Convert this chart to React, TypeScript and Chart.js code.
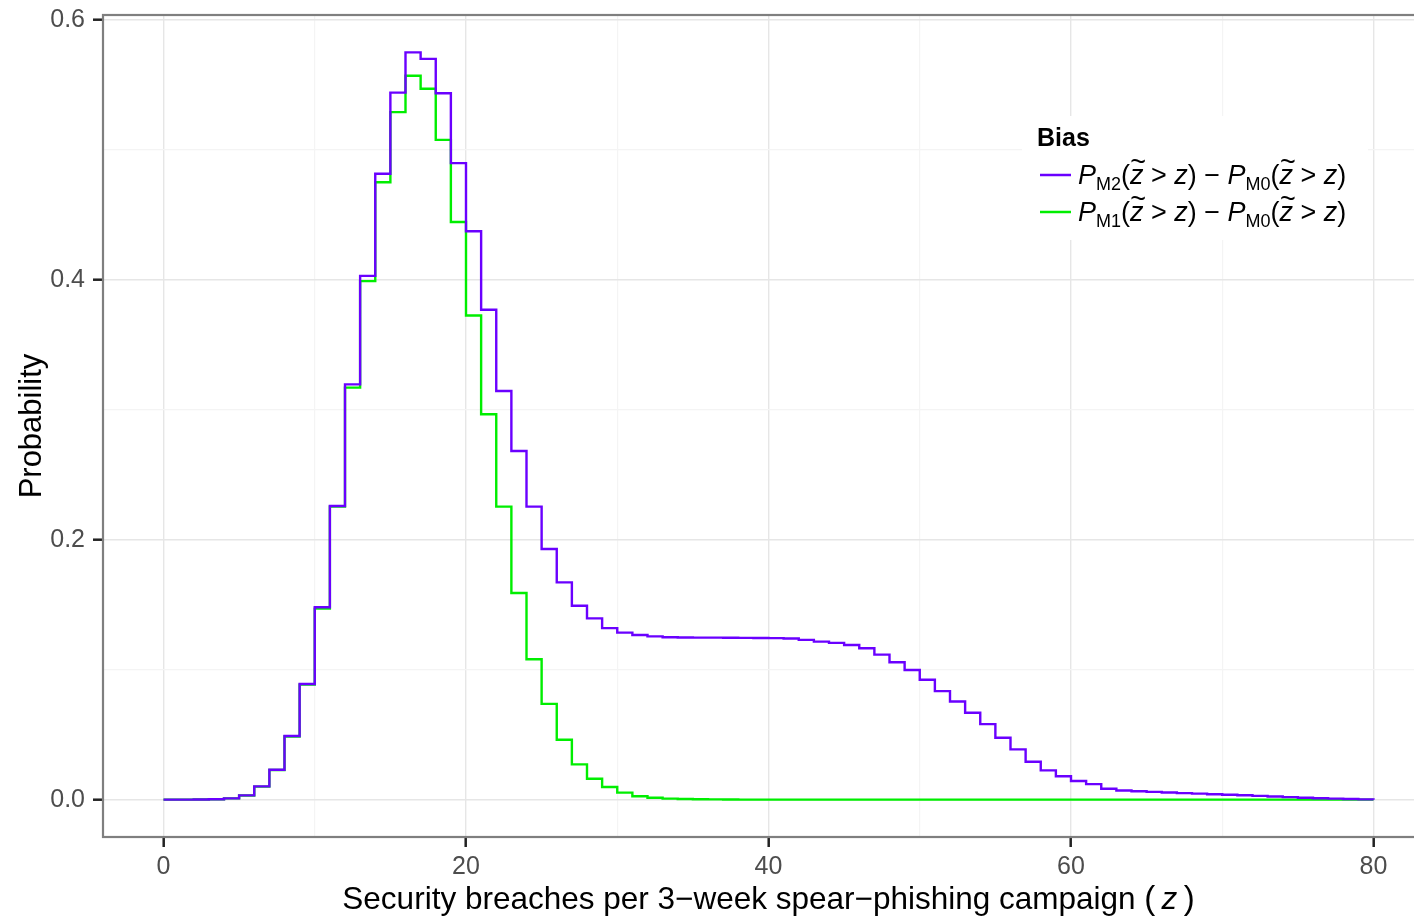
import React, { useEffect, useRef } from 'react';
import { Chart, registerables } from 'chart.js';

Chart.register(...registerables);

// z = number of security breaches (integer steps)
const zValues = [
  0, 1, 2, 3, 4, 5, 6, 7, 8, 9,
  10, 11, 12, 13, 14, 15, 16, 17, 18, 19,
  20, 21, 22, 23, 24, 25, 26, 27, 28, 29,
  30, 31, 32, 33, 34, 35, 36, 37, 38, 39,
  40, 41, 42, 43, 44, 45, 46, 47, 48, 49,
  50, 51, 52, 53, 54, 55, 56, 57, 58, 59,
  60, 61, 62, 63, 64, 65, 66, 67, 68, 69,
  70, 71, 72, 73, 74, 75, 76, 77, 78, 79,
  80,
];

// P_M2(z~ > z) - P_M0(z~ > z)
const biasM2 = [
  0, 0, 0.0001, 0.0003, 0.001, 0.0033, 0.0102, 0.023, 0.049, 0.089,
  0.148, 0.226, 0.3195, 0.403, 0.4816, 0.544, 0.575, 0.57, 0.5435, 0.4898,
  0.4373, 0.377, 0.3144, 0.2683, 0.2255, 0.1928, 0.1672, 0.1492, 0.1395, 0.132,
  0.1285, 0.1267, 0.1256, 0.125, 0.1248, 0.1247, 0.1247, 0.1246, 0.1245, 0.1244,
  0.1243, 0.124, 0.1229, 0.1216, 0.1206, 0.119, 0.1165, 0.1116, 0.1057, 0.0998,
  0.0922, 0.0835, 0.0755, 0.0668, 0.0581, 0.0476, 0.0387, 0.0292, 0.0225, 0.018,
  0.0143, 0.0119, 0.0084, 0.007, 0.0064, 0.006, 0.0055, 0.005, 0.0046, 0.0042,
  0.0038, 0.0034, 0.0029, 0.0024, 0.0019, 0.0014, 0.0011, 0.0008, 0.0005, 0.0002,
  0,
];

// P_M1(z~ > z) - P_M0(z~ > z)
const biasM1 = [
  0, 0, 0.0001, 0.0003, 0.001, 0.0032, 0.01, 0.0228, 0.0486, 0.0885,
  0.147, 0.2255, 0.317, 0.399, 0.475, 0.529, 0.557, 0.547, 0.5077, 0.4445,
  0.3725, 0.2965, 0.2255, 0.159, 0.108, 0.0737, 0.0461, 0.0271, 0.0161, 0.0097,
  0.0054, 0.0026, 0.0015, 0.0008, 0.0005, 0.0003, 0.0002, 0.0001, 0, 0,
  0, 0, 0, 0, 0, 0, 0, 0, 0, 0,
  0, 0, 0, 0, 0, 0, 0, 0, 0, 0,
  0, 0, 0, 0, 0, 0, 0, 0, 0, 0,
  0, 0, 0, 0, 0, 0, 0, 0, 0, 0,
  0,
];

const xGridValues = [0, 10, 20, 30, 40, 50, 60, 70, 80];
const xMajorValues = [0, 20, 40, 60, 80];
const yGridValues = [0, 0.1, 0.2, 0.3, 0.4, 0.5, 0.6];
const yMajorValues = [0, 0.2, 0.4, 0.6];

const legendTitle = 'Bias';
const yTitle = 'Probability';
const xTitleMain = 'Security breaches per 3\u2212week spear\u2212phishing campaign ';
const seriesSubscripts = ['M2', 'M1'];
const baseSubscript = 'M0';
const colorM2 = '#6A00FF';
const colorM1 = '#00EE00';

const FONT = '"Liberation Sans", Arial, Helvetica, sans-serif';

const isMajor = (v: number, majors: number[]) => majors.some((m) => Math.abs(m - v) < 1e-9);

type Run = { text: string; font: string; dy?: number; tilde?: boolean };

function drawRuns(ctx: CanvasRenderingContext2D, runs: Run[], x: number, y: number, draw = true) {
  let cx = x;
  for (const r of runs) {
    ctx.font = r.font;
    const w = ctx.measureText(r.text).width;
    if (draw) {
      ctx.fillText(r.text, cx, y + (r.dy || 0));
      if (r.tilde) {
        ctx.save();
        ctx.font = `27px ${FONT}`;
        const tw = ctx.measureText('~').width;
        ctx.fillText('~', cx + (w - tw) / 2 + 1.5, y + (r.dy || 0) - 13);
        ctx.restore();
      }
    }
    cx += w;
  }
  return cx - x;
}

function legendRuns(sub: string): Run[] {
  const main = `27px ${FONT}`;
  const ital = `italic 27px ${FONT}`;
  const small = `18px ${FONT}`;
  return [
    { text: 'P', font: ital },
    { text: sub, font: small, dy: 6 },
    { text: '(', font: main },
    { text: 'z', font: ital, tilde: true },
    { text: ' > ', font: main },
    { text: 'z', font: ital },
    { text: ')', font: main },
    { text: ' \u2212 ', font: main },
    { text: 'P', font: ital },
    { text: baseSubscript, font: small, dy: 6 },
    { text: '(', font: main },
    { text: 'z', font: ital, tilde: true },
    { text: ' > ', font: main },
    { text: 'z', font: ital },
    { text: ')', font: main },
  ];
}

const decorPlugin = {
  id: 'decor',
  afterDraw(chart: any) {
    const ctx: CanvasRenderingContext2D = chart.ctx;
    const a = chart.chartArea;
    ctx.save();

    // legend box
    ctx.fillStyle = '#FFFFFF';
    ctx.fillRect(1022, 116, 346, 124);
    ctx.fillStyle = '#000000';
    ctx.textBaseline = 'alphabetic';
    ctx.textAlign = 'left';
    ctx.font = `bold 25px ${FONT}`;
    ctx.fillText(legendTitle, 1037, 146);
    const colors = [colorM2, colorM1];
    const ys = [175, 212];
    for (let i = 0; i < 2; i++) {
      ctx.strokeStyle = colors[i];
      ctx.lineWidth = 2.5;
      ctx.beginPath();
      ctx.moveTo(1040, ys[i]);
      ctx.lineTo(1071, ys[i]);
      ctx.stroke();
      ctx.fillStyle = '#000000';
      drawRuns(ctx, legendRuns(seriesSubscripts[i]), 1078, ys[i] + 9);
    }

    // y title
    ctx.save();
    ctx.translate(41, (a.top + a.bottom) / 2);
    ctx.rotate(-Math.PI / 2);
    ctx.font = `31px ${FONT}`;
    ctx.textAlign = 'center';
    ctx.textBaseline = 'alphabetic';
    ctx.fillStyle = '#000000';
    ctx.fillText(yTitle, 0, 0);
    ctx.restore();

    // x title
    const xRuns: Run[] = [
      { text: xTitleMain, font: `31.5px ${FONT}` },
      { text: '(', font: `33px ${FONT}` },
      { text: '\u2009z\u2009', font: `italic 31.5px ${FONT}` },
      { text: ')', font: `33px ${FONT}` },
    ];
    ctx.textAlign = 'left';
    ctx.fillStyle = '#000000';
    const w = drawRuns(ctx, xRuns, 0, 0, false);
    drawRuns(ctx, xRuns, (a.left + a.right) / 2 - w / 2, 909);

    // panel border
    ctx.strokeStyle = '#7F7F7F';
    ctx.lineWidth = 2.2;
    ctx.strokeRect(a.left, a.top, a.right - a.left, a.bottom - a.top);
    ctx.restore();
  },
};

export default function App() {
  const ref = useRef<HTMLCanvasElement | null>(null);

  useEffect(() => {
    if (!ref.current) return;
    const chart = new Chart(ref.current, {
      type: 'line',
      data: {
        datasets: [
          {
            label: 'M2',
            data: zValues.map((z, i) => ({ x: z, y: biasM2[i] })),
            borderColor: colorM2,
            borderWidth: 2.4,
            pointRadius: 0,
            stepped: true,
            fill: false,
          },
          {
            label: 'M1',
            data: zValues.map((z, i) => ({ x: z, y: biasM1[i] })),
            borderColor: colorM1,
            borderWidth: 2.4,
            pointRadius: 0,
            stepped: true,
            fill: false,
          },
        ],
      },
      options: {
        responsive: false,
        animation: false,
        layout: { padding: { left: 0, top: 15, right: 16, bottom: 0 } },
        plugins: { legend: { display: false }, tooltip: { enabled: false } },
        scales: {
          x: {
            type: 'linear',
            min: -4,
            max: 84,
            afterBuildTicks: (s: any) => {
              s.ticks = xGridValues.map((v) => ({ value: v }));
            },
            afterFit: (s: any) => {
              s.height = 79;
              s.paddingLeft = 0;
              s.paddingRight = 0;
            },
            border: { display: false },
            grid: {
              color: (c: any) => (isMajor(c.tick.value, xMajorValues) ? '#E6E6E6' : '#F4F4F4'),
              lineWidth: (c: any) => (isMajor(c.tick.value, xMajorValues) ? 1.4 : 1.2),
              tickColor: (c: any) => (isMajor(c.tick.value, xMajorValues) ? '#222222' : 'rgba(0,0,0,0)'),
              tickWidth: 2.5,
              tickLength: 10,
            },
            ticks: {
              autoSkip: false,
              maxRotation: 0,
              padding: 5,
              color: '#4D4D4D',
              font: { family: FONT, size: 25 },
              callback: (v: any) => (isMajor(Number(v), xMajorValues) ? String(v) : ''),
            },
          },
          y: {
            type: 'linear',
            min: -0.02875,
            max: 0.60375,
            afterBuildTicks: (s: any) => {
              s.ticks = yGridValues.map((v) => ({ value: v }));
            },
            afterFit: (s: any) => {
              s.width = 103;
              s.paddingTop = 0;
              s.paddingBottom = 0;
            },
            border: { display: false },
            grid: {
              color: (c: any) => (isMajor(c.tick.value, yMajorValues) ? '#E6E6E6' : '#F4F4F4'),
              lineWidth: (c: any) => (isMajor(c.tick.value, yMajorValues) ? 1.4 : 1.2),
              tickColor: (c: any) => (isMajor(c.tick.value, yMajorValues) ? '#222222' : 'rgba(0,0,0,0)'),
              tickWidth: 2.5,
              tickLength: 10,
            },
            ticks: {
              autoSkip: false,
              padding: 8,
              color: '#4D4D4D',
              font: { family: FONT, size: 25 },
              callback: (v: any) => (isMajor(Number(v), yMajorValues) ? Number(v).toFixed(1) : ''),
            },
          },
        },
      },
      plugins: [decorPlugin],
    } as any);
    return () => chart.destroy();
  }, []);

  return (
    <canvas
      ref={ref}
      width={1450}
      height={916}
      style={{ position: 'fixed', left: 0, top: 0, width: '1450px', height: '916px', display: 'block', background: '#FFFFFF' }}
    />
  );
}
